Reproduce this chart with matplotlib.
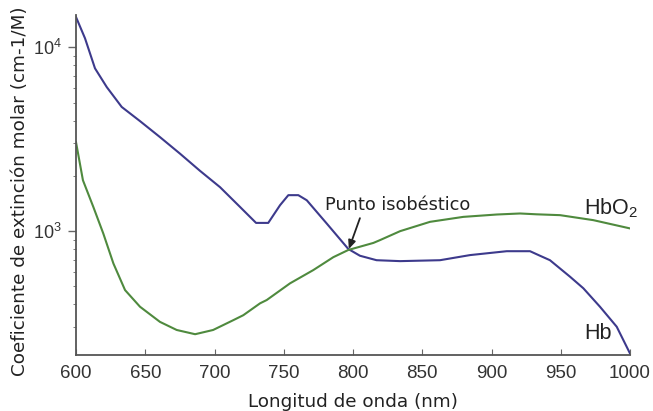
import matplotlib
matplotlib.use("Agg")
import matplotlib.pyplot as plt
from matplotlib.ticker import FuncFormatter
import numpy as np

hb_nm = [600, 606.5, 613.7, 622.2, 633, 646.2, 660.6, 675.1, 689.5, 704, 718.4, 730, 738.8,
         747.3, 753.3, 760.5, 766.6, 781, 796.6, 805, 817, 834, 862.8, 884.5, 911, 927.8,
         935, 942.2, 956.7, 966.3, 978.3, 990.4, 1000]
hb_val = [14620, 11200, 7690, 6080, 4740, 3970, 3250, 2640, 2130, 1735, 1355, 1109, 1109,
          1384, 1570, 1570, 1473, 1101, 800, 735, 695, 687, 695, 741, 778, 778,
          735, 695, 565, 489, 388, 302, 216]

hbo2_nm = [600, 605, 612.5, 619.7, 627, 635.4, 646.2, 660.6, 672.7, 686, 699, 713.6, 720.8,
           732.9, 737.7, 754.5, 771.3, 785.8, 796.6, 814.7, 819.5, 834, 855.6, 879.6, 903.8,
           920.6, 932.6, 949.5, 973.5, 1000]
hbo2_val = [3050, 1892, 1355, 971, 667, 478, 388, 321, 290, 275, 290, 328, 349,
            405, 422, 520, 614, 722, 790, 863, 894, 1000, 1124, 1196, 1232,
            1248, 1235, 1222, 1148, 1035]

xticks = [600, 650, 700, 750, 800, 850, 900, 950, 1000]
yticks = [1000, 10000]

fig = plt.figure(figsize=(6.53, 4.11), dpi=100)
ax = fig.add_axes([0.1164, 0.1363, 0.8484, 0.8272])

ax.plot(hb_nm, hb_val, color="#3d3a8c", lw=1.5, solid_joinstyle="round")
ax.plot(hbo2_nm, hbo2_val, color="#4f8a3e", lw=1.5, solid_joinstyle="round")
ax.set_yscale("log")
ax.set_xlim(600, 1000)
ax.set_ylim(212, 15000)
ax.set_xticks(xticks)
ax.set_yticks(yticks)
ax.yaxis.set_major_formatter(FuncFormatter(lambda v, p: r"$\mathregular{10^{%d}}$" % round(np.log10(v))))

for s in ["top", "right"]:
    ax.spines[s].set_visible(False)
for s in ["left", "bottom"]:
    ax.spines[s].set_color("#555555")
    ax.spines[s].set_linewidth(1.3)

ax.tick_params(axis="x", direction="in", length=4, color="#666666", labelsize=13.5, pad=7,
               labelcolor="#333333")
ax.tick_params(axis="y", which="major", direction="out", length=5.5, width=1, color="#666666",
               labelsize=13, pad=5, labelcolor="#333333")
ax.tick_params(axis="y", which="minor", direction="out", length=2.5, color="#666666")
for lab in ax.get_xticklabels() + ax.get_yticklabels():
    lab.set_fontfamily("Liberation Sans")

ax.set_xlabel("Longitud de onda (nm)", fontsize=13.2, family="DejaVu Sans", labelpad=8,
              color="#222222")
ax.set_ylabel("Coeficiente de extinción molar (cm-1/M)", fontsize=13.2, family="DejaVu Sans",
              color="#222222")
ax.yaxis.set_label_coords(-0.101, 0.481)
ax.yaxis.label.set_va("center")

ax.text(986, 1334, r"HbO$\mathregular{_2}$", fontsize=15.5, family="Liberation Sans",
        ha="center", va="center", color="#222222")
ax.text(977, 279, "Hb", fontsize=15.5, family="Liberation Sans", ha="center", va="center",
        color="#222222")
ax.text(832, 1385, "Punto isobéstico", fontsize=12.8, family="DejaVu Sans", ha="center",
        va="center", color="#222222")
ax.annotate("", xy=(797, 800), xytext=(805, 1177),
            arrowprops=dict(arrowstyle="-|>,head_length=0.5,head_width=0.22", color="#222222",
                            lw=1.3, shrinkA=0, shrinkB=0))

fig.savefig("out.png", dpi=100)
